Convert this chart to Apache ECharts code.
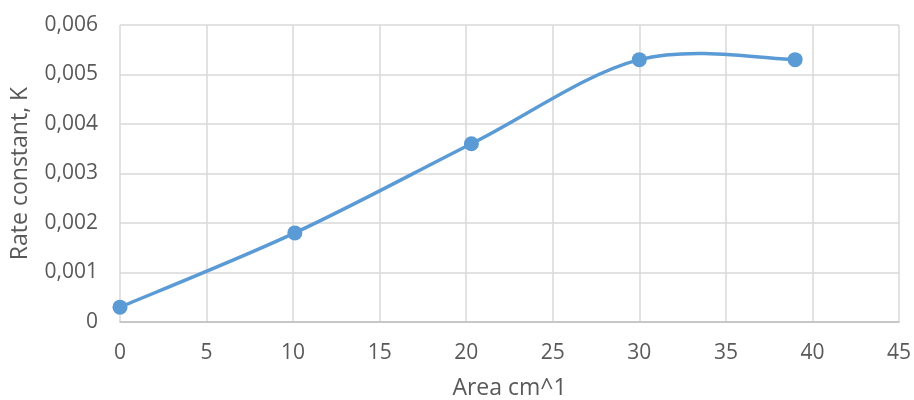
<!DOCTYPE html>
<html>
<head>
<meta charset="utf-8">
<script src="https://cdn.jsdelivr.net/npm/echarts@6/dist/echarts.min.js"></script>
<style>
  html, body { margin: 0; padding: 0; background: #fff; }
  #chart { width: 914px; height: 400px; }
</style>
</head>
<body>
<div id="chart"></div>
<script>
// Measured samples: surface area vs. rate constant
const areaValues = [0, 10.1, 20.3, 30, 39];
const rateValues = [0.0003, 0.0018, 0.0036, 0.0053, 0.0053];

const xAxisTitle = 'Area cm^1';
const yAxisTitle = 'Rate constant, K';

const textColor = '#595959';
const lineColor = '#5b9bd5';
const fontFamily = '"Open Sans", "Liberation Sans", sans-serif';

const points = areaValues.map((x, i) => [x, rateValues[i]]);

// Tick labels use a decimal comma
function commaDecimal(v) {
  if (v === 0) return '0';
  return v.toFixed(3).replace('.', ',');
}

// Smoothed connector: each segment is a cubic Bezier whose control points
// are offset by 1/6 of the vector between the neighbouring samples
// (computed in pixel space from the axis scales).
function renderSegment(params, api) {
  const i = params.dataIndex;
  if (i === 0) return null;
  const n = points.length;
  const p = (k) => api.coord(points[Math.max(0, Math.min(n - 1, k))]);
  const p0 = p(i - 2), p1 = p(i - 1), p2 = p(i), p3 = p(i + 1);
  const t = 1 / 6;
  return {
    type: 'bezierCurve',
    shape: {
      x1: p1[0], y1: p1[1],
      cpx1: p1[0] + (p2[0] - p0[0]) * t, cpy1: p1[1] + (p2[1] - p0[1]) * t,
      cpx2: p2[0] - (p3[0] - p1[0]) * t, cpy2: p2[1] - (p3[1] - p1[1]) * t,
      x2: p2[0], y2: p2[1]
    },
    style: { stroke: lineColor, lineWidth: 3.5, fill: null, lineCap: 'round' },
    silent: true
  };
}

const chart = echarts.init(document.getElementById('chart'), null, { renderer: 'canvas' });
chart.setOption({
  animation: false,
  backgroundColor: '#ffffff',
  grid: { left: 120, right: 15, top: 25, bottom: 78, containLabel: false, outerBoundsMode: 'none' },
  xAxis: {
    type: 'value',
    min: 0,
    max: 45,
    interval: 5,
    name: xAxisTitle,
    nameLocation: 'middle',
    nameGap: 55,
    nameTextStyle: { color: textColor, fontSize: 23, fontFamily: fontFamily },
    axisLine: { show: true, lineStyle: { color: '#bfbfbf', width: 1.5 } },
    axisTick: { show: false },
    axisLabel: { color: textColor, fontSize: 21, fontFamily: fontFamily, margin: 21 },
    splitLine: { show: true, lineStyle: { color: '#d9d9d9', width: 1.5 } }
  },
  yAxis: {
    type: 'value',
    min: 0,
    max: 0.006,
    interval: 0.001,
    name: yAxisTitle,
    nameLocation: 'middle',
    nameGap: 88,
    nameTextStyle: { color: textColor, fontSize: 23, fontFamily: fontFamily },
    axisLine: { show: false },
    axisTick: { show: false },
    axisLabel: { color: textColor, fontSize: 21, fontFamily: fontFamily, margin: 22, formatter: commaDecimal },
    splitLine: { show: true, lineStyle: { color: '#d9d9d9', width: 1.5 } }
  },
  series: [{
    type: 'custom',
    data: points,
    renderItem: renderSegment,
    clip: false,
    z: 2
  }, {
    type: 'scatter',
    data: points,
    symbol: 'circle',
    symbolSize: 15,
    itemStyle: { color: lineColor, opacity: 1 },
    z: 3
  }]
});
</script>
</body>
</html>
